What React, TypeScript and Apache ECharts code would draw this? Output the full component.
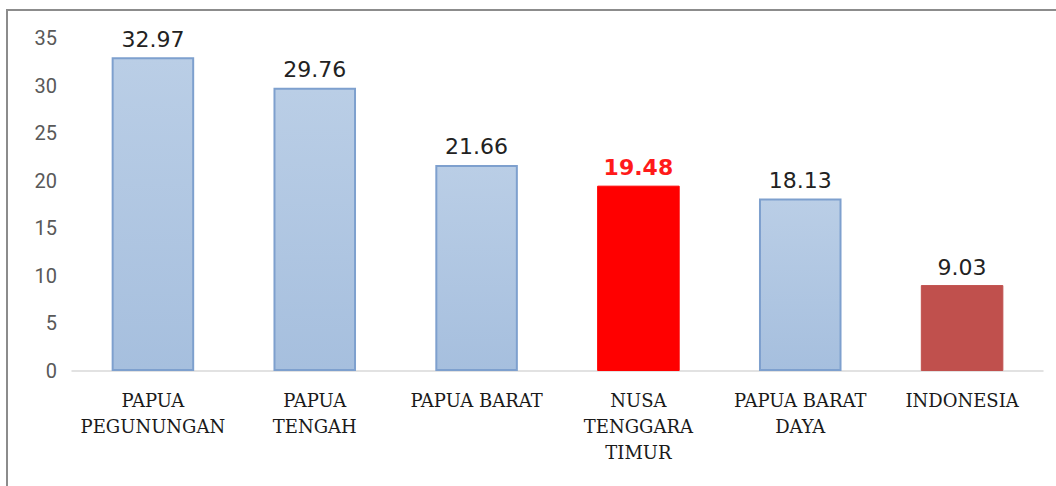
import React, { useEffect, useRef } from "react";
import * as echarts from "echarts";

const categories = [
  "PAPUA\nPEGUNUNGAN",
  "PAPUA\nTENGAH",
  "PAPUA BARAT",
  "NUSA\nTENGGARA\nTIMUR",
  "PAPUA BARAT\nDAYA",
  "INDONESIA",
];
const values = [32.97, 29.76, 21.66, 19.48, 18.13, 9.03];
const yTicks = { min: 0, max: 35, interval: 5 };

const blueFill = {
  type: "linear" as const,
  x: 0, y: 0, x2: 0, y2: 1,
  colorStops: [
    { offset: 0, color: "#BACEE6" },
    { offset: 1, color: "#A6BFDE" },
  ],
};

export default function App() {
  const ref = useRef<HTMLDivElement>(null);
  useEffect(() => {
    const chart = echarts.init(ref.current!, null, { renderer: "svg" });
    const data = values.map((v, i) => {
      if (i === 3) {
        return {
          value: v,
          itemStyle: { color: "#FF0000", borderColor: "#FF0000", borderWidth: 1 },
          label: { color: "#FF1A1A", fontWeight: "bold" as const },
        };
      }
      if (i === 5) {
        return {
          value: v,
          itemStyle: { color: "#C0504D", borderColor: "#C0504D", borderWidth: 1 },
        };
      }
      return {
        value: v,
        itemStyle: { color: blueFill, borderColor: "#7EA0CE", borderWidth: 2 },
      };
    });
    chart.setOption({
      animation: false,
      backgroundColor: "#FFFFFF",
      grid: { left: 72, right: 13, top: 38, bottom: 115, containLabel: false },
      graphic: [
        {
          type: "rect",
          shape: { x: 7, y: 10, width: 1070, height: 500 },
          style: { fill: "none", stroke: "#8C8C8C", lineWidth: 2 },
          silent: true,
        },
      ],
      xAxis: {
        type: "category",
        data: categories,
        axisLine: { show: true, lineStyle: { color: "#D9D9D9", width: 1.5 } },
        axisTick: { show: false },
        axisLabel: {
          interval: 0,
          color: "#1A1A1A",
          fontFamily: "DejaVu Serif, serif",
          fontSize: 18,
          lineHeight: 26,
          margin: 16,
        },
      },
      yAxis: {
        type: "value",
        min: yTicks.min,
        max: yTicks.max,
        interval: yTicks.interval,
        splitLine: { show: false },
        axisLine: { show: false },
        axisTick: { show: false },
        axisLabel: {
          color: "#595959",
          fontFamily: "Roboto, sans-serif",
          fontSize: 20,
          margin: 15,
        },
      },
      series: [
        {
          type: "bar",
          data,
          barWidth: "51%",
          label: {
            show: true,
            position: "top",
            distance: 7,
            color: "#222222",
            fontFamily: "DejaVu Sans, sans-serif",
            fontSize: 22,
            formatter: (p: any) => p.value.toFixed(2),
          },
        },
      ],
    });
    return () => chart.dispose();
  }, []);
  return (
    <div
      ref={ref}
      style={{ position: "fixed", left: 0, top: 0, width: 1056, height: 486 }}
    />
  );
}
